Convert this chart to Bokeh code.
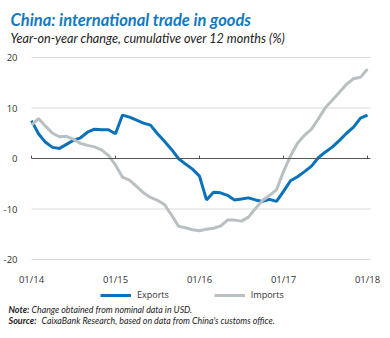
from bokeh.plotting import figure
from bokeh.models import (Label, Legend, LegendItem, FixedTicker, ColumnDataSource,
                          Range1d, LinearAxis)
from bokeh.embed import file_html
from bokeh.resources import INLINE

# ---- data (monthly, 01/2014 .. 01/2018) ----
months = list(range(49))
exports = [7.5, 4.9, 3.2, 2.2, 2.0, 2.8, 3.6, 4.1, 5.2, 5.8, 5.7, 5.7,
           4.9, 8.6, 8.2, 7.6, 7.0, 6.6, 4.9, 3.4, 1.8, 0.0, -1.1, -2.1,
           -3.5, -8.2, -6.7, -6.8, -7.3, -8.2, -8.0, -7.8, -8.2, -8.5, -8.1, -8.5,
           -6.5, -4.4, -3.6, -2.6, -1.5, 0.2, 1.3, 2.3, 3.6, 5.0, 6.2, 8.0,
           8.6]
imports = [6.6, 7.9, 6.4, 5.0, 4.3, 4.4, 3.8, 3.0, 2.6, 2.3, 1.7, 0.6,
           -1.3, -3.7, -4.3, -5.5, -6.8, -7.7, -8.3, -9.1, -11.2, -13.4, -13.7, -14.1,
           -14.3, -14.0, -13.8, -13.4, -12.2, -12.2, -12.4, -11.6, -9.9, -8.3, -7.3, -6.2,
           -2.6, 0.5, 3.0, 4.6, 5.8, 7.9, 10.1, 11.6, 13.1, 14.7, 15.8, 16.1,
           17.7]
x_tick_positions = [0, 12, 24, 36, 48]
x_tick_labels = ["01/14", "01/15", "01/16", "01/17", "01/18"]
y_ticks = [-20, -10, 0, 10, 20]
y_tick_labels = ["-20", "-10", "0", "10", "20"]

title_text = "China: international trade in goods"
subtitle_text = "Year-on-year change, cumulative over 12 months (%)"
note_head, note_body = "Note:", "Change obtained from nominal data in USD."
source_head, source_body = "Source:", "CaixaBank Research, based on data from China's customs office."

BLUE = "#0a72bb"
GRAY = "#b9c0c4"
TXT = "#333333"
W, H = 390, 338

# ---- layout geometry (pixels) : plot box inside the canvas ----
PL, PR, PT, PB = 31, 370, 57, 259          # left, right, top(y=20), bottom(y=-20)
X_END = 48.43                              # data x at right edge of plot box
px_x = (PR - PL) / X_END
px_y = (PB - PT) / (y_ticks[-1] - y_ticks[0])
x_lo = -PL / px_x
x_hi = X_END + (W - PR) / px_x
y_hi = y_ticks[-1] + PT / px_y
y_lo = y_ticks[0] - (H - PB) / px_y

src = ColumnDataSource(dict(m=months, exp=exports, imp=imports))
grid_src = ColumnDataSource(dict(y=[t for t in y_ticks if t != 0]))
grid_src.data["x0"] = [0] * len(grid_src.data["y"])
grid_src.data["x1"] = [X_END] * len(grid_src.data["y"])

p = figure(width=W, height=H, output_backend="svg", toolbar_location=None,
           x_range=Range1d(x_lo, x_hi), y_range=Range1d(y_lo, y_hi),
           min_border=0, outline_line_color=None,
           background_fill_color="white", border_fill_color="white",
           x_axis_location=None, y_axis_location=None)
p.grid.visible = False

# horizontal gridlines inside the plot box
p.segment(x0="x0", y0="y", x1="x1", y1="y", source=grid_src,
          line_color="#d9d9d9", line_width=1)

# y axis (labels only) at x = 0
yax = LinearAxis(fixed_location=0, ticker=FixedTicker(ticks=y_ticks),
                 major_label_overrides=dict(zip(y_ticks, y_tick_labels)),
                 axis_line_color=None, major_tick_line_color=None,
                 minor_tick_line_color=None, major_label_standoff=8,
                 major_label_text_font="Open Sans",
                 major_label_text_font_size="9.5px",
                 major_label_text_color=TXT)
p.add_layout(yax, "left")

# x axis (labels only) at y = -20
xax = LinearAxis(fixed_location=y_ticks[0], ticker=FixedTicker(ticks=x_tick_positions),
                 major_label_overrides=dict(zip(x_tick_positions, x_tick_labels)),
                 axis_line_color=None, major_tick_line_color=None,
                 minor_tick_line_color=None, major_label_standoff=7,
                 major_label_text_font="Open Sans",
                 major_label_text_font_size="9.5px",
                 major_label_text_color=TXT)
p.add_layout(xax, "below")

# zero line with small upward ticks
zax = LinearAxis(fixed_location=0, bounds=(0, X_END),
                 ticker=FixedTicker(ticks=x_tick_positions),
                 axis_line_color="#555555", axis_line_width=1,
                 major_tick_in=3, major_tick_out=0,
                 major_tick_line_color="#555555",
                 minor_tick_line_color=None,
                 major_label_text_color=None)
p.add_layout(zax, "below")

r_exp = p.line("m", "exp", source=src, line_color=BLUE, line_width=3)
r_imp = p.line("m", "imp", source=src, line_color=GRAY, line_width=3)

legend = Legend(items=[LegendItem(label="Exports", renderers=[r_exp]),
                       LegendItem(label="Imports", renderers=[r_imp])],
                orientation="horizontal", location=(100, 37),
                glyph_width=31, glyph_height=10, label_standoff=6, spacing=45,
                padding=0, margin=0, border_line_color=None,
                background_fill_alpha=0,
                label_text_font="Open Sans", label_text_font_size="9px",
                label_text_color=TXT)
p.add_layout(legend, "center")


def lab(x, y_top, text, size, style, color, font="Lato"):
    # y_top: baseline measured from the top of the canvas
    p.add_layout(Label(x=x, y=H - y_top, x_units="screen", y_units="screen",
                       text=text, text_font=font, text_font_size=size,
                       text_font_style=style, text_color=color,
                       text_baseline="alphabetic", text_align="left"))


lab(10, 19, title_text, "16.5px", "bold italic", "#1379c0")
lab(10, 37.5, subtitle_text, "12.6px", "italic", "#222222")
lab(8, 308.5, note_head, "9px", "bold italic", "#222222")
lab(31, 308.5, note_body, "8.8px", "italic", "#222222")
lab(8, 320, source_head, "9px", "bold italic", "#222222")
lab(41, 320, source_body, "8.8px", "italic", "#222222")

open("out.html", "w").write(file_html(p, INLINE))
